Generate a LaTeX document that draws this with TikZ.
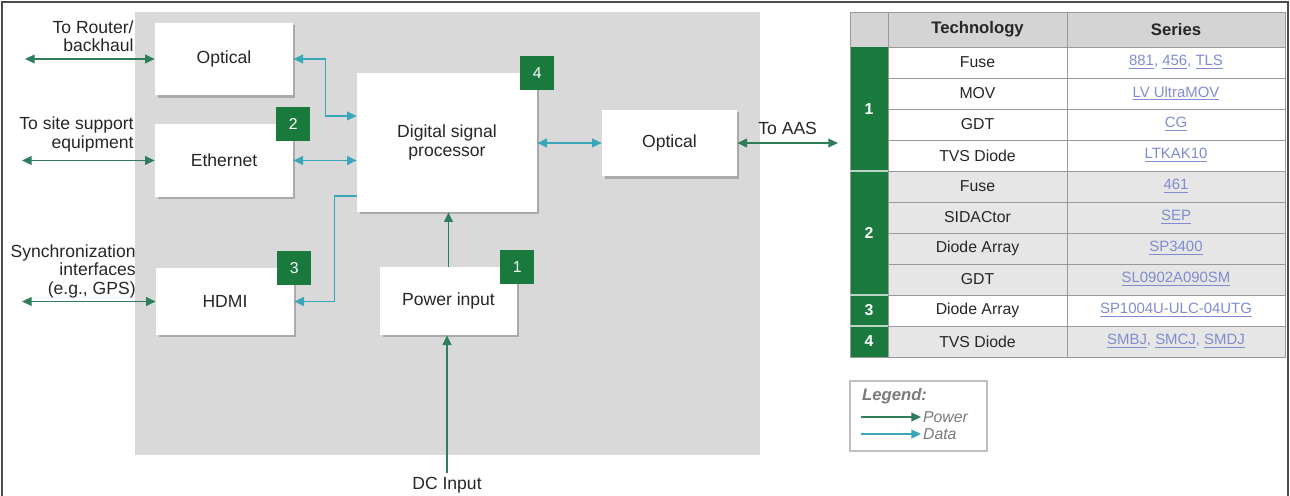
\documentclass[tikz,border=0pt]{standalone}
\usepackage{fontspec}
\setmainfont{Liberation Sans}
\usetikzlibrary{arrows.meta,shadows,positioning,calc}
\definecolor{badgegreen}{HTML}{1A7A3E}
\definecolor{powergreen}{HTML}{2E7D5B}
\definecolor{datateal}{HTML}{3AA6B9}
\definecolor{bggray}{HTML}{D9D9D9}
\definecolor{headgray}{HTML}{D4D4D4}
\definecolor{rowgray}{HTML}{E6E6E6}
\definecolor{linkblue}{HTML}{7F8CD0}
\definecolor{legendgray}{HTML}{7A7A7A}

\begin{document}
\begin{tikzpicture}[x=0.02cm,y=-0.02cm,
>={Triangle[length=5.5pt,width=5pt]},
block/.style={
% The shape:
rectangle, fill=white,
% The size:
minimum width=2.76cm, minimum height=1.46cm,
% The shadow:
drop shadow={shadow xshift=0.05cm,shadow yshift=-0.05cm,fill=black!45,opacity=0.6},
% Font
font=\fontsize{10}{11}\selectfont, text=black!85, align=center},
badge/.style={rectangle, fill=badgegreen, text=white, minimum size=0.68cm,
inner sep=0pt, font=\fontsize{9}{9}\selectfont},
power/.style={draw=powergreen, line width=0.9pt},
data/.style={draw=datateal, line width=0.9pt},
sidelabel/.style={font=\fontsize{10}{10.5}\selectfont, text=black!85, align=right, inner sep=0pt},
headtext/.style={font=\bfseries\fontsize{9.5}{10}\selectfont, text=black!85},
techtext/.style={font=\fontsize{9}{10}\selectfont, text=black!85},
sertext/.style={font=\fontsize{8.5}{10}\selectfont, text=linkblue},
grpnum/.style={font=\bfseries\fontsize{9}{10}\selectfont, text=white},
gridline/.style={draw=black!40, line width=0.5pt},
legendtext/.style={font=\itshape\fontsize{9}{10}\selectfont, text=legendgray, inner sep=1pt}]

\useasboundingbox (0,0) rectangle (1290,496);
\draw[black!70, line width=1pt] (2,496) -- (2,2) -- (1288,2) -- (1288,496);
\fill[bggray] (135,12) rectangle (760,455);

\node (opt1) [block] at (224,59) {Optical};
\node (eth) [block] at (224,160.5) {Ethernet};
\node (hdmi) [block, minimum height=1.34cm] at (225,301.5) {HDMI};
\node (dsp) [block, minimum width=3.6cm, minimum height=2.78cm] at (447,142.5) {Digital signal\\processor};
\node (opt2) [block, minimum width=2.7cm, minimum height=1.34cm] at (669.5,143) {Optical};
\node (pwr) [block, minimum width=2.74cm, minimum height=1.36cm] at (448.5,301) {Power input};

\node (b2) [badge] at (eth.north east) {2};
\node (b3) [badge] at (hdmi.north east) {3};
\node (b4) [badge] at (dsp.north east) {4};
\node (b1) [badge] at (pwr.north east) {1};

\node (lrtr) [sidelabel, anchor=south east] at (134,52) {To Router/\\backhaul};
\node (lsite) [sidelabel, anchor=south east] at (134,152) {To site support\\equipment};
\node (lsync) [sidelabel, anchor=south east] at (136,298) {Synchronization\\interfaces\\(e.g., GPS)};
\node (dc) [sidelabel, align=center, inner sep=2pt] at (447,485) {DC Input};

\coordinate (rtr) at (25,59);
\coordinate (site) at (22,160.5);
\coordinate (sync) at (22,301.5);
\coordinate (aas) at (838,143);

\draw[power,<->] (rtr) -- (opt1.west);
\draw[power,<->] (site) -- (eth.west);
\draw[power,<->] (sync) -- (hdmi.west);
\draw[power,<->] (opt2.east) -- node[above=1pt, font=\fontsize{10}{10}\selectfont, text=black!85] {To AAS} (aas);
\draw[power,->] (dc.north) -- (dc.north |- pwr.south);
\draw[power,->] (pwr.north) -- (pwr.north |- dsp.south);

\draw[data,<->] (opt1.east) -- ++(32,0) |- ($(dsp.north west)!0.31!(dsp.south west)$);
\draw[data,<->] (eth.east) -- (eth.east -| dsp.west);
\draw[data,->] ($(dsp.north west)!0.885!(dsp.south west)$) -- ++(-22,0) |- (hdmi.east);
\draw[data,<->] (dsp.east |- opt2.west) -- (opt2.west);

% table
\fill[headgray] (850,12) rectangle (1285,47);
\fill[rowgray] (888,171) rectangle (1285,295);
\fill[rowgray] (888,326) rectangle (1285,357);
\fill[badgegreen] (850,47) rectangle (888,357);
\foreach \y in {47,78,...,357}
  \draw[gridline] (888,\y) -- (1285,\y);
\draw[gridline] (888,12) -- (888,357) (1067,12) -- (1067,357);
\draw[gridline] (850,12) rectangle (1285,357);
\draw[white!70!badgegreen, line width=1pt] (850,171) -- (888,171) (850,295) -- (888,295) (850,326) -- (888,326);

\node (htech) [headtext] at (977.5,29.5) {Technology};
\node (hser) [headtext] at (1176,29.5) {Series};

\foreach \tech/\ser [count=\i] in {
  Fuse/{\underline{881}, \underline{456}, \underline{TLS}},
  MOV/{\underline{LV UltraMOV}},
  GDT/{\underline{CG}},
  TVS Diode/{\underline{LTKAK10}},
  Fuse/{\underline{461}},
  SIDACtor/{\underline{SEP}},
  Diode Array/{\underline{SP3400}},
  GDT/{\underline{SL0902A090SM}},
  Diode Array/{\underline{SP1004U-ULC-04UTG}},
  TVS Diode/{\underline{SMBJ}, \underline{SMCJ}, \underline{SMDJ}}} {
  \node (t\i) [techtext] at (977.5,{31.5+31*\i}) {\tech};
  \node (s\i) [sertext] at (1176,{31.5+31*\i}) {\ser};
}

\node (g1) [grpnum] at (869,109) {1};
\node (g2) [grpnum] at (869,233) {2};
\node (g3) [grpnum] at (869,310.5) {3};
\node (g4) [grpnum] at (869,341.5) {4};

% legend
\node (lgd) [draw=black!25, line width=0.8pt, minimum width=2.74cm, minimum height=1.4cm] at (918.5,416) {};
\node (lgdtitle) [legendtext, font=\bfseries\itshape\fontsize{9.5}{10}\selectfont, anchor=west] at (860,396) {Legend:};
\node (lpw) [legendtext, anchor=west] at (921,417) {Power};
\node (ldt) [legendtext, anchor=west] at (921,434) {Data};
\coordinate (lp0) at (861,417);
\coordinate (ld0) at (861,434);
\draw[power,->] (lp0) -- (lpw.west);
\draw[data,->] (ld0) -- (ldt.west);
\end{tikzpicture}
\end{document}
